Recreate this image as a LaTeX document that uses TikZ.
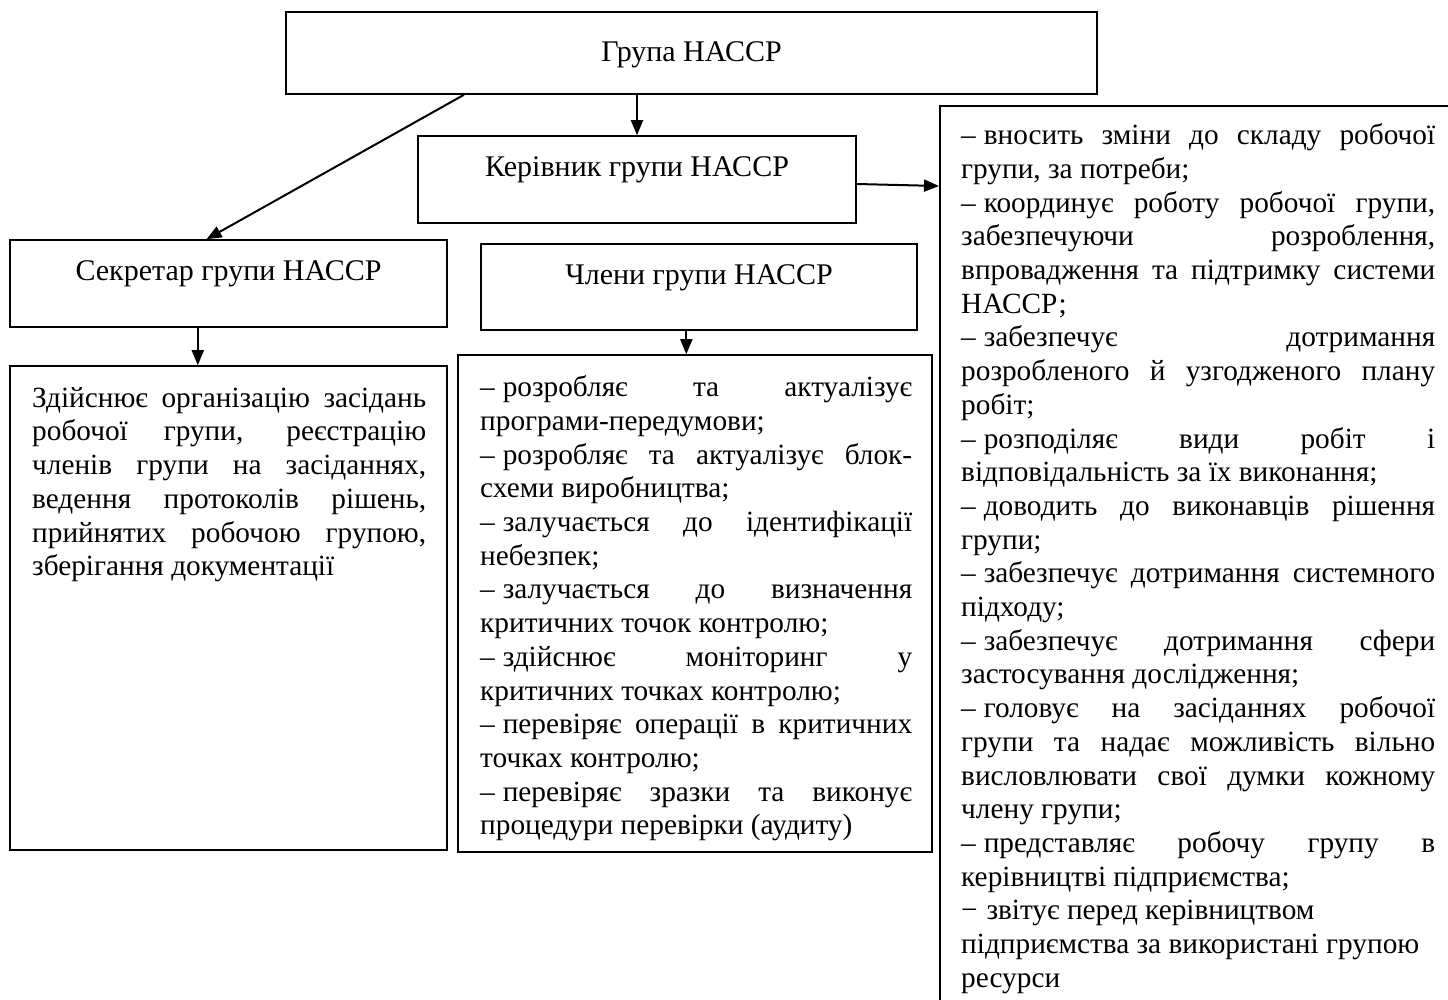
\documentclass[tikz,border=0pt]{standalone}
\usepackage{fontspec}
\setmainfont{Liberation Serif}
\usetikzlibrary{arrows.meta,calc}
\newlength\wlft \setlength\wlft{394pt}
\newlength\wmid \setlength\wmid{432pt}
\newlength\wrgt \setlength\wrgt{474pt}
\newcommand\jl[2]{\makebox[#1][s]{\spaceskip=0.25em plus 1fil minus 0.05em\relax\xspaceskip=\spaceskip\strut #2}}
\newcommand\sk{\spaceskip=0.25em\relax\xspaceskip=0.25em\relax}
\newcommand\dd{–\hspace{0.27em}}
\begin{document}
\begin{tikzpicture}[x=1pt,y=-1pt,
  box/.style={draw, line width=1.6pt, inner sep=0pt, font=\fontsize{30}{34}\selectfont, text height=22pt},
  frame/.style={draw, line width=1.6pt, inner sep=0pt},
  txt/.style={anchor=north west, inner sep=0pt, align=left, text width=#1, font=\fontsize{29.3}{33.7}\selectfont},
  arr/.style={line width=2pt, -{Triangle[length=15pt,width=12pt]}}]
\useasboundingbox (0,0) rectangle (1448,1000);
\clip (0,0) rectangle (1448,1000);

% header boxes
\node[box, minimum width=811pt, minimum height=82pt, text depth=4.6pt] (top) at (691.5,53) {Група НАССР};
\node[box, minimum width=438pt, minimum height=87pt, text depth=27.6pt] (ker) at (637,179.5) {Керівник групи НАССР};
\node[box, minimum width=437pt, minimum height=87pt, text depth=28pt] (sec) at (228.5,283.5) {Секретар групи НАССР};
\node[box, minimum width=436pt, minimum height=86pt, text depth=26.6pt] (mem) at (699,287) {Члени групи НАССР};

% frames
\node[frame, minimum width=437pt, minimum height=484pt] (secT) at (228.5,608) {};
\node[frame, minimum width=474pt, minimum height=497pt] (memT) at (695,603.5) {};
\node[frame, anchor=north west, minimum width=531pt, minimum height=915pt] (dut) at (939,105) {};

% texts
\node[txt=\wlft] (secTx) at (32,383.5) {\sk
\jl{\wlft}{Здійснює організацію засідань}\\
\jl{\wlft}{робочої групи, реєстрацію}\\
\jl{\wlft}{членів групи на засіданнях,}\\
\jl{\wlft}{ведення протоколів рішень,}\\
\jl{\wlft}{прийнятих робочою групою,}\\
\strut зберігання документації};

\node[txt=\wmid] (memTx) at (480,373) {\sk
\jl{\wmid}{\dd розробляє та актуалізує}\\
\strut програми-передумови;\\
\jl{\wmid}{\dd розробляє та актуалізує блок-}\\
\strut схеми виробництва;\\
\jl{\wmid}{\dd залучається до ідентифікації}\\
\strut небезпек;\\
\jl{\wmid}{\dd залучається до визначення}\\
\strut критичних точок контролю;\\
\jl{\wmid}{\dd здійснює моніторинг у}\\
\strut критичних точках контролю;\\
\jl{\wmid}{\dd перевіряє операції в критичних}\\
\strut точках контролю;\\
\jl{\wmid}{\dd перевіряє зразки та виконує}\\
\strut процедури перевірки (аудиту)};

\node[txt=\wrgt] (dutTx) at (961,121) {\sk
\jl{\wrgt}{\dd вносить зміни до складу робочої}\\
\strut групи, за потреби;\\
\jl{\wrgt}{\dd координує роботу робочої групи,}\\
\jl{\wrgt}{забезпечуючи розроблення,}\\
\jl{\wrgt}{впровадження та підтримку системи}\\
\strut НАССР;\\
\jl{\wrgt}{\dd забезпечує дотримання}\\
\jl{\wrgt}{розробленого й узгодженого плану}\\
\strut робіт;\\
\jl{\wrgt}{\dd розподіляє види робіт і}\\
\strut відповідальність за їх виконання;\\
\jl{\wrgt}{\dd доводить до виконавців рішення}\\
\strut групи;\\
\jl{\wrgt}{\dd забезпечує дотримання системного}\\
\strut підходу;\\
\jl{\wrgt}{\dd забезпечує дотримання сфери}\\
\strut застосування дослідження;\\
\jl{\wrgt}{\dd головує на засіданнях робочої}\\
\jl{\wrgt}{групи та надає можливість вільно}\\
\jl{\wrgt}{висловлювати свої думки кожному}\\
\strut члену групи;\\
\jl{\wrgt}{\dd представляє робочу групу в}\\
\strut керівництві підприємства;\\
\strut −\hspace{0.3em}звітує перед керівництвом\\
\strut підприємства за використані групою\\
\strut ресурси};

% connectors
\draw[arr] (ker.north |- top.south) -- (ker.north);
\coordinate (d1) at ($(top.south west)!0.22!(top.south east)$);
\coordinate (d2) at ($(sec.north west)!0.45!(sec.north east)$);
\draw[arr] (d1) -- (d2);
\draw[arr] ([yshift=-4.5pt]ker.east) -- ([yshift=-6.5pt]ker.east -| dut.west);
\coordinate (s1) at ($(sec.south west)!0.43!(sec.south east)$);
\draw[arr] (s1) -- (s1 |- secT.north);
\coordinate (m1) at ($(mem.south west)!0.471!(mem.south east)$);
\draw[arr] (m1) -- (m1 |- memT.north);
\end{tikzpicture}
\end{document}
